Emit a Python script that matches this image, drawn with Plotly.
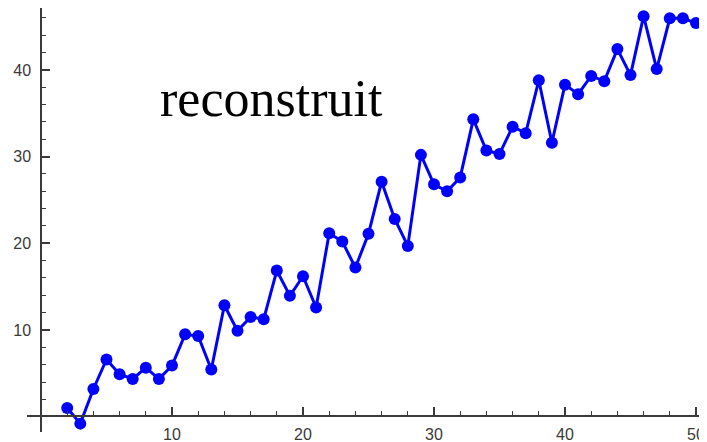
import plotly.graph_objects as go

x_vals = list(range(2, 51))
y_vals = [1.0, -0.8, 3.2, 6.6, 4.9, 4.35, 5.65, 4.35, 5.9, 9.5,
          9.3, 5.45, 12.85, 9.9, 11.5, 11.25, 16.85, 13.95, 16.2, 12.6,
          21.15, 20.2, 17.2, 21.1, 27.1, 22.8, 19.7, 30.2, 26.8, 26.0,
          27.6, 34.3, 30.7, 30.3, 33.45, 32.7, 38.8, 31.6, 38.3, 37.2,
          39.3, 38.7, 42.4, 39.4, 46.2, 40.1, 45.95, 45.95, 45.4]
x_ticks = [10, 20, 30, 40, 50]
y_ticks = [10, 20, 30, 40]
label_text = "reconstruit"

# page body has an 8px margin; figure sized to fill the rest of the window
W, H = 699, 434
fig = go.Figure()
fig.add_trace(go.Scatter(
    x=x_vals, y=y_vals, mode="lines+markers",
    line=dict(color="#0000ff", width=3),
    marker=dict(color="#0000ff", size=12),
    cliponaxis=False, showlegend=False, hoverinfo="skip"))

axis_col = "#3a3a3a"
tick_font = dict(family="Liberation Sans", size=16, color="#3a3a3a")

fig.update_layout(
    width=W, height=H,
    margin=dict(l=0, r=0, t=0, b=0),
    paper_bgcolor="white", plot_bgcolor="white",
    xaxis=dict(
        domain=[19 / W, 1], range=[-1.069, 50.84],
        anchor="free", position=1 - 408 / H,
        showgrid=False, zeroline=False,
        showline=True, linecolor=axis_col, linewidth=1.5,
        tickvals=x_ticks, ticks="inside", ticklen=8, tickwidth=1.5, tickcolor=axis_col,
        minor=dict(dtick=2, tick0=0, ticks="inside", ticklen=4, tickwidth=1, tickcolor=axis_col),
        tickfont=tick_font, ticklabelstandoff=4,
    ),
    yaxis=dict(
        domain=[1 - 424 / H, 1], range=[-1.765, 47.14],
        anchor="free", position=33 / W,
        showgrid=False, zeroline=False,
        showline=True, linecolor=axis_col, linewidth=1.5,
        tickvals=y_ticks, ticks="inside", ticklen=8, tickwidth=1.5, tickcolor=axis_col,
        minor=dict(dtick=2, tick0=0, ticks="inside", ticklen=4, tickwidth=1, tickcolor=axis_col),
        tickfont=tick_font, ticklabelstandoff=6,
    ),
    annotations=[dict(
        text=label_text, xref="paper", yref="paper",
        x=150 / W, y=1 - 90 / H, xanchor="left", yanchor="middle",
        showarrow=False,
        font=dict(family="Liberation Serif", size=52, color="black"))],
)

fig.write_html("out.html")
